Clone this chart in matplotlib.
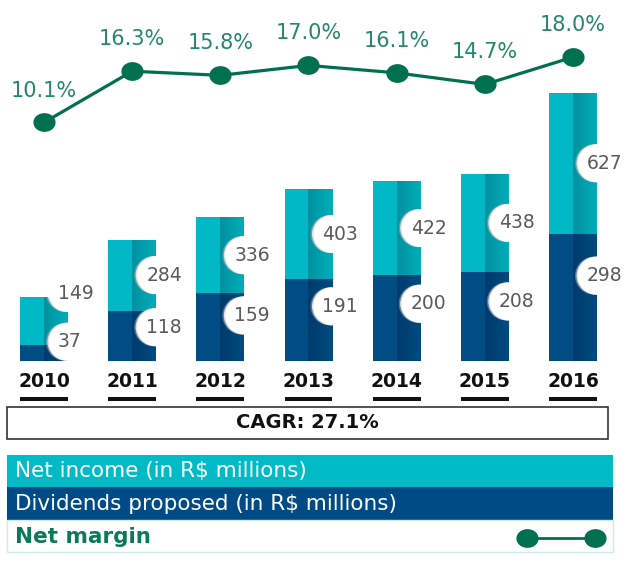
import numpy as np
import matplotlib
matplotlib.use("Agg")
import matplotlib.pyplot as plt
from matplotlib.patches import Rectangle, Ellipse

# data
years = ["2010", "2011", "2012", "2013", "2014", "2015", "2016"]
net_income = [149, 284, 336, 403, 422, 438, 627]
dividends = [37, 118, 159, 191, 200, 208, 298]
net_margin = [10.1, 16.3, 15.8, 17.0, 16.1, 14.7, 18.0]
cagr_text = "CAGR: 27.1%"

W, H = 628, 566
fig = plt.figure(figsize=(W / 100, H / 100), dpi=100)
ax = fig.add_axes([0, 0, 1, 1])
ax.set_xlim(-0.499, 6.624)
ax.set_ylim(-479.5, 844.4)
ax.axis("off")

ax2 = ax.twinx()
ax2.set_ylim(-43.53, 24.91)
ax2.axis("off")

x = np.arange(len(years))
net = np.array(net_income)
div = np.array(dividends)
bw = 0.544

teal_l, teal_d1, teal_d2 = "#00b8c6", "#0092a0", "#00abb9"
blue_l, blue_d1, blue_d2 = "#004c85", "#003b6d", "#004a80"

def mix(c1, c2, t):
    a = np.array(matplotlib.colors.to_rgb(c1))
    b = np.array(matplotlib.colors.to_rgb(c2))
    return a + (b - a) * t

# left halves
ax.bar(x - bw / 4, net, bw / 2, color=teal_l, lw=0)
ax.bar(x - bw / 4, div, bw / 2, color=blue_l, lw=0)
# right halves with a little shading
n = 8
for k in range(n):
    xs = x + bw / 2 * k / n + bw / 4 / n
    ax.bar(xs, net, bw / 2 / n + 0.002, color=mix(teal_d1, teal_d2, k / (n - 1)), lw=0)
    ax.bar(xs, div, bw / 2 / n + 0.002, color=mix(blue_d1, blue_d2, k / (n - 1)), lw=0)

# label positions
y_net = np.where(net - div < 120, net + 10, (net + div) / 2)
y_div = np.maximum(div * 0.67, 45)
px = 1 / 88.17          # one pixel in x data units
py = 1 / 0.4275         # one pixel in y data units
edge = x + bw / 2
r = 19

# notches (white bites with a soft shadow, shadow clipped to the bar)
for i in range(len(x)):
    clip = Rectangle((x[i] - bw / 2, 0), bw, net[i], transform=ax.transData)
    for yy in (y_net[i], y_div[i]):
        for dx, col, a in ((-3, "#b0b0b0", 0.5), (-1.5, "#e2e2e2", 1)):
            sh = Ellipse((edge[i] + dx * px, yy), 2 * r * px, 2 * r * py,
                         color=col, alpha=a, lw=0, zorder=3)
            ax.add_patch(sh)
            sh.set_clip_path(clip)
        ax.add_patch(Ellipse((edge[i], yy), 2 * r * px, 2 * r * py,
                             color="white", lw=0, zorder=3))
    ax.text(edge[i] - 10 * px, y_net[i], str(net[i]), ha="left", va="center",
            fontsize=13.5, color="#5a5a5a", zorder=4)
    ax.text(edge[i] - 10 * px, y_div[i], str(div[i]), ha="left", va="center",
            fontsize=13.5, color="#5a5a5a", zorder=4)

# years + underline
for i in range(len(x)):
    ax.text(x[i], -46.8, years[i], ha="center", va="center", fontsize=13.5,
            fontweight="bold", color="#111111")
ax.bar(x, 9.4, bw, bottom=-93.6, color="#111111", lw=0)

# net margin line
t = np.linspace(0, 2 * np.pi, 40)
ell = np.c_[np.cos(t) * 1.2, np.sin(t)]
green = "#00704f"
ax2.plot(x, net_margin, color=green, lw=2.3, marker=ell, ms=15, zorder=5)
for i, v in enumerate(net_margin):
    ax2.annotate(f"{v:.1f}%", (x[i], v), xytext=(0, 23), textcoords="offset points",
                 ha="center", va="center", fontsize=15, color="#23876a")

# boxes below (pixel coords)
def box(x0, y0, w, h, **kw):
    rr = Rectangle((x0 / W, 1 - (y0 + h) / H), w / W, h / H, transform=fig.transFigure, **kw)
    fig.add_artist(rr)

def ftext(x0, y0, s, **kw):
    fig.text(x0 / W, 1 - y0 / H, s, **kw)

box(7, 407, 601, 32, facecolor="white", edgecolor="#333333", lw=1.2)
ftext(307, 423, cagr_text, ha="center", va="center", fontsize=14,
      fontweight="bold", color="#111111")

box(7, 455, 606, 32, facecolor="#00bac6", edgecolor="none")
box(7, 487, 606, 33, facecolor="#004b85", edgecolor="none")
box(7, 520, 606, 32, facecolor="white", edgecolor="#cfeaea", lw=1)
ftext(15, 471, "Net income (in R$ millions)", ha="left", va="center",
      fontsize=15.5, color="white")
ftext(15, 504, "Dividends proposed (in R$ millions)", ha="left", va="center",
      fontsize=15.5, color="white")
ftext(15, 537, "Net margin", ha="left", va="center", fontsize=15.5,
      fontweight="bold", color="#0b7a58")

fig.add_artist(plt.Line2D([527 / W, 595 / W], [1 - 538 / H, 1 - 538 / H],
                          transform=fig.transFigure, color=green, lw=2,
                          marker=ell, ms=15))

fig.savefig("out.png", dpi=100)
